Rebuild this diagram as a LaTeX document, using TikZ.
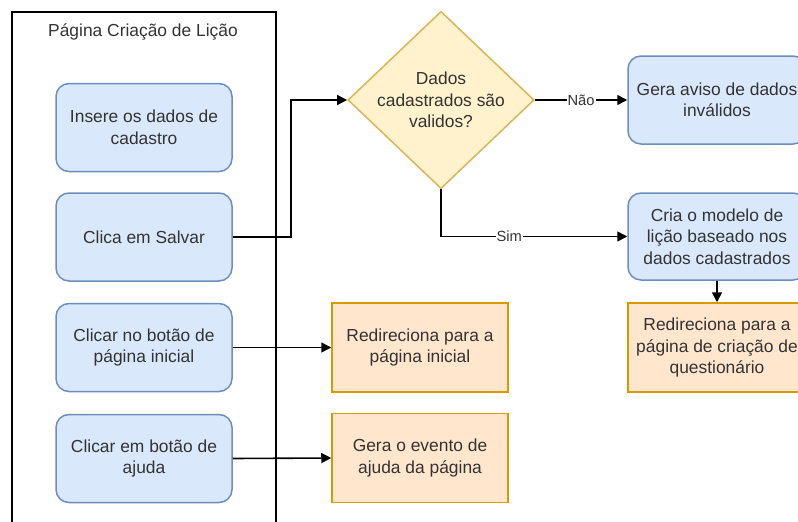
\documentclass[tikz,border=0pt]{standalone}
\usepackage{fontspec}
\setmainfont{Liberation Sans}
\usetikzlibrary{shapes.geometric,arrows.meta}
\definecolor{bluef}{HTML}{DAE8FC}
\definecolor{blues}{HTML}{6C8EBF}
\definecolor{orf}{HTML}{FFE6CC}
\definecolor{ors}{HTML}{D79B00}
\definecolor{yelf}{HTML}{FFF2CC}
\definecolor{yels}{HTML}{D6B656}
\definecolor{txt}{HTML}{333333}
\tikzset{
  base/.style={align=center, text=txt, font=\fontsize{17.4}{21.5}\selectfont, line width=1.5pt, inner sep=0pt},
  bluebox/.style={base, draw=blues, fill=bluef, rounded corners=13pt, minimum width=176pt, minimum height=88pt},
  orbox/.style={base, draw=ors, fill=orf, minimum width=176pt, minimum height=89pt},
  decision/.style={base, diamond, draw=yels, fill=yelf, minimum width=182pt, minimum height=174pt, aspect=1.05},
  arr/.style={line width=1.6pt, draw=black, -{Triangle[length=10pt,width=10pt]}},
  lbl/.style={fill=white, text=txt, font=\fontsize{14.7}{17}\selectfont, inner sep=1pt}
}
\begin{document}
\begin{tikzpicture}[x=1pt,y=-1pt]
\useasboundingbox (0,0) rectangle (798,522);
\clip (0,0) rectangle (798,522);
\fill[white] (0,0) rectangle (798,522);
% container
\draw[line width=1.4pt] (12,530) -- (12,12) -- (276,12) -- (276,530);
\node[base] (title) at (143,32) {Página Criação de Lição};
% left boxes
\node[bluebox] (b1) at (144,127.5) {Insere os dados de\\cadastro};
\node[bluebox] (b2) at (144,237) {Clica em Salvar};
\node[bluebox] (b3) at (144,347.5) {Clicar no botão de\\página inicial};
\node[bluebox] (b4) at (144,458.5) {Clicar em botão de\\ajuda};
% middle
\node[orbox] (o1) at (420,347.5) {Redireciona para a\\página inicial};
\node[orbox] (o2) at (420,458) {Gera o evento de\\ajuda da página};
% decision
\node[decision] (dia) at (441,100) {Dados\\cadastrados são\\validos?};
% right
\node[bluebox, minimum width=178pt] (aviso) at (717,100) {Gera aviso de dados\\inválidos};
\node[bluebox, minimum width=178pt, minimum height=87pt] (cria) at (717,236.5) {Cria o modelo de\\lição baseado nos\\dados cadastrados};
\node[orbox, minimum width=178pt] (o3) at (717,347.5) {Redireciona para a\\página de criação de\\questionário};
% connectors
\coordinate (k) at (291,0);
\draw[arr] (b2.east) -- (b2.east -| k) -- (k |- dia.west) -- (dia.west);
\draw[arr] (dia.east) -- node[lbl] {Não} (aviso.west);
\draw[arr] (dia.south) |- node[lbl, pos=0.683] {Sim} (cria.west);
\draw[arr] (cria.south) -- (o3.north);
\draw[arr] (b3.east) -- (o1.west);
\draw[arr] (b4.east) -- (o2.west);
\end{tikzpicture}
\end{document}
